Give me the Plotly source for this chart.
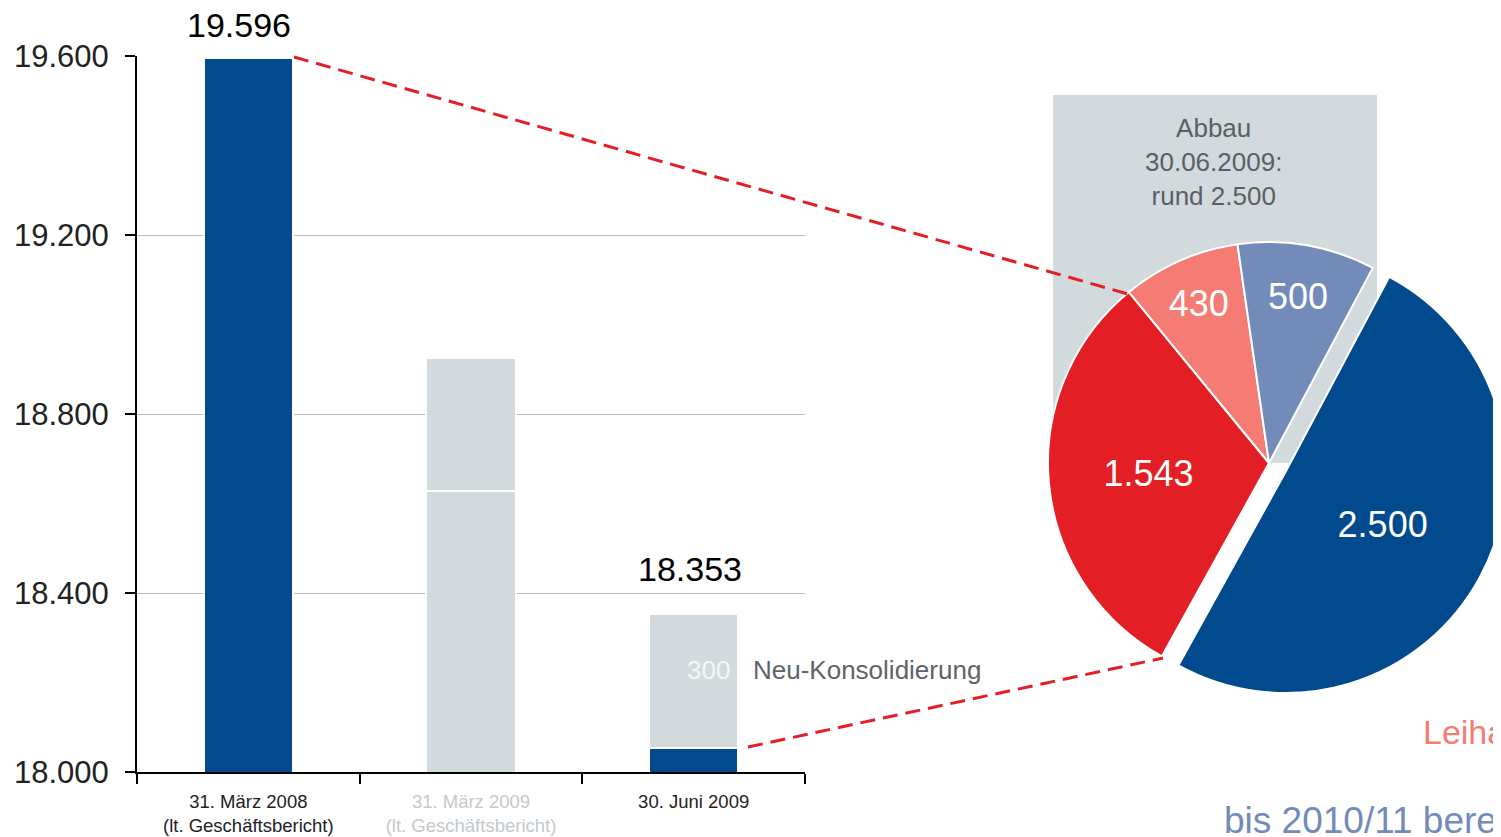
import plotly.graph_objects as go

# Mitarbeiter je Stichtag (Balken, gestapelt)
kategorien = ['31. März 2008', '31. März 2009', '30. Juni 2009']
untertitel = ['(lt. Geschäftsbericht)', '(lt. Geschäftsbericht)', '']
basis = [19596, 18628, 18053]
zusatz = [0, 297, 300]
summen = [19596, None, 18353]
zusatz_text = 'Neu-Konsolidierung'

# Abbau bis 30.06.2009 (Torte)
abbau_werte = [2500, 1543, 430, 500]
abbau_text = 'Abbau<br>30.06.2009:<br>rund 2.500'

NAVY = '#004A8D'
GRAU = '#D3DADD'
FONT = 'Liberation Sans, Arial, sans-serif'

W, H = 1501, 837
OFF = 8  # body-Rand der HTML-Seite


def px_x(x):
    return (x - OFF) / W


def px_y(y):
    return 1 - (y - OFF) / H


def fmt(v):
    return f'{v:,}'.replace(',', '.')


tick_farben = ['#222222', '#C3C9CE', '#222222']
ticktext = []
for k, u, c in zip(kategorien, untertitel, tick_farben):
    t = f"<span style='color:{c}'>{k}</span>"
    if u:
        t += f"<br><span style='color:{c}'>{u}</span>"
    ticktext.append(t)

fig = go.Figure()

fig.add_trace(go.Bar(
    x=kategorien,
    y=basis,
    width=0.4,
    marker=dict(color=[NAVY, GRAU, NAVY], line=dict(color='white', width=2)),
    hoverinfo='skip',
    showlegend=False
))
fig.add_trace(go.Bar(
    x=kategorien,
    y=zusatz,
    width=0.4,
    marker=dict(color=GRAU, line=dict(color='white', width=2)),
    hoverinfo='skip',
    showlegend=False
))

# Torte: Mittelpunkt (1269, 463), Radius 221
pull = 0.085
cx, cy, rad = 1269, 463, 221
halb = rad * (1 + pull)
fig.add_trace(go.Pie(
    values=abbau_werte,
    sort=False,
    direction='clockwise',
    rotation=28,
    pull=[pull, 0, 0, 0],
    marker=dict(colors=[NAVY, '#E31E24', '#F47C74', '#728BB8'],
                line=dict(color='white', width=2)),
    texttemplate='%{value:,.0f}',
    textposition='inside',
    insidetextorientation='horizontal',
    textfont=dict(color='white', size=36, family=FONT),
    domain=dict(x=[px_x(cx - halb), min(1, px_x(cx + halb))],
                y=[px_y(cy + halb), px_y(cy - halb)]),
    automargin=False,
    hoverinfo='skip',
    showlegend=False
))

# Summen ueber den Balken
for k, s, dx, dy in zip(kategorien, summen, [-9, 0, -4], [12, 0, 24]):
    if s is None:
        continue
    fig.add_annotation(x=k, y=s, xref='x', yref='y', text=fmt(s),
                       showarrow=False, xanchor='center', yanchor='bottom',
                       yshift=dy, xshift=dx,
                       font=dict(size=34, color='black', family=FONT))

# 300 / Neu-Konsolidierung
fig.add_annotation(x=kategorien[2], y=basis[2] + zusatz[2] / 2, xref='x', yref='y',
                   text=fmt(zusatz[2]), showarrow=False, xanchor='right',
                   xshift=38, yshift=11,
                   font=dict(size=26, color='#F4F6F7', family=FONT))
fig.add_annotation(x=kategorien[2], y=basis[2] + zusatz[2] / 2, xref='x', yref='y',
                   text=zusatz_text, showarrow=False, xanchor='left',
                   xshift=57, yshift=11,
                   font=dict(size=26, color='#5F6369', family=FONT))

# Kasten hinter der Torte
fig.add_shape(type='rect', xref='paper', yref='paper',
              x0=px_x(1053), x1=px_x(1377), y0=px_y(463), y1=px_y(95),
              fillcolor=GRAU, line=dict(width=0), layer='below')
fig.add_annotation(xref='paper', yref='paper', x=px_x(1213), y=px_y(162),
                   text=abbau_text, showarrow=False,
                   xanchor='center', yanchor='middle',
                   font=dict(size=26, color='#5A5F66', family=FONT))

# rote Verbindungslinien
fig.add_shape(type='line', xref='paper', yref='paper',
              x0=px_x(294), y0=px_y(57), x1=px_x(1128), y1=px_y(294),
              line=dict(color='#E31E24', width=3, dash='15px,8px'))
fig.add_shape(type='line', xref='paper', yref='paper',
              x0=px_x(748), y0=px_y(747), x1=px_x(1163), y1=px_y(658),
              line=dict(color='#E31E24', width=3, dash='15px,8px'))

# angeschnittene Texte rechts
fig.add_annotation(xref='paper', yref='paper', x=px_x(1421), y=px_y(732),
                   text='Leiharbeit', showarrow=False,
                   xanchor='left', yanchor='middle',
                   font=dict(size=34, color='#F47C74', family=FONT))
fig.add_annotation(xref='paper', yref='paper', x=px_x(1222), y=px_y(820),
                   text='bis 2010/11 bereits', showarrow=False,
                   xanchor='left', yanchor='middle',
                   font=dict(size=37, color='#728BB8', family=FONT))

fig.update_layout(
    width=W,
    height=H,
    margin=dict(l=0, r=0, t=0, b=0, autoexpand=False),
    barmode='stack',
    separators=',.',
    plot_bgcolor='white',
    paper_bgcolor='white',
    font=dict(family=FONT),
    xaxis=dict(
        domain=[px_x(137), px_x(805)],
        type='category',
        range=[-0.5, 2.5],
        tickmode='array',
        tickvals=kategorien,
        ticktext=ticktext,
        tickson='boundaries',
        tickangle=0,
        ticks='outside',
        ticklen=10,
        tickwidth=2,
        tickcolor='black',
        ticklabelstandoff=12,
        showline=True,
        linecolor='black',
        linewidth=2,
        showgrid=False,
        automargin=False,
        tickfont=dict(size=18.5, color='#222222'),
        fixedrange=True
    ),
    yaxis=dict(
        domain=[px_y(772), px_y(56)],
        range=[18000, 19600],
        tickvals=[18000, 18400, 18800, 19200, 19600],
        tickformat=',.0f',
        ticks='outside',
        ticklen=10,
        tickwidth=2,
        tickcolor='black',
        ticklabelstandoff=10,
        showline=True,
        linecolor='black',
        linewidth=2,
        showgrid=True,
        gridcolor='#B4BCC4',
        gridwidth=1,
        zeroline=False,
        automargin=False,
        tickfont=dict(size=31, color='#222222'),
        fixedrange=True
    )
)

fig.write_html("out.html")
